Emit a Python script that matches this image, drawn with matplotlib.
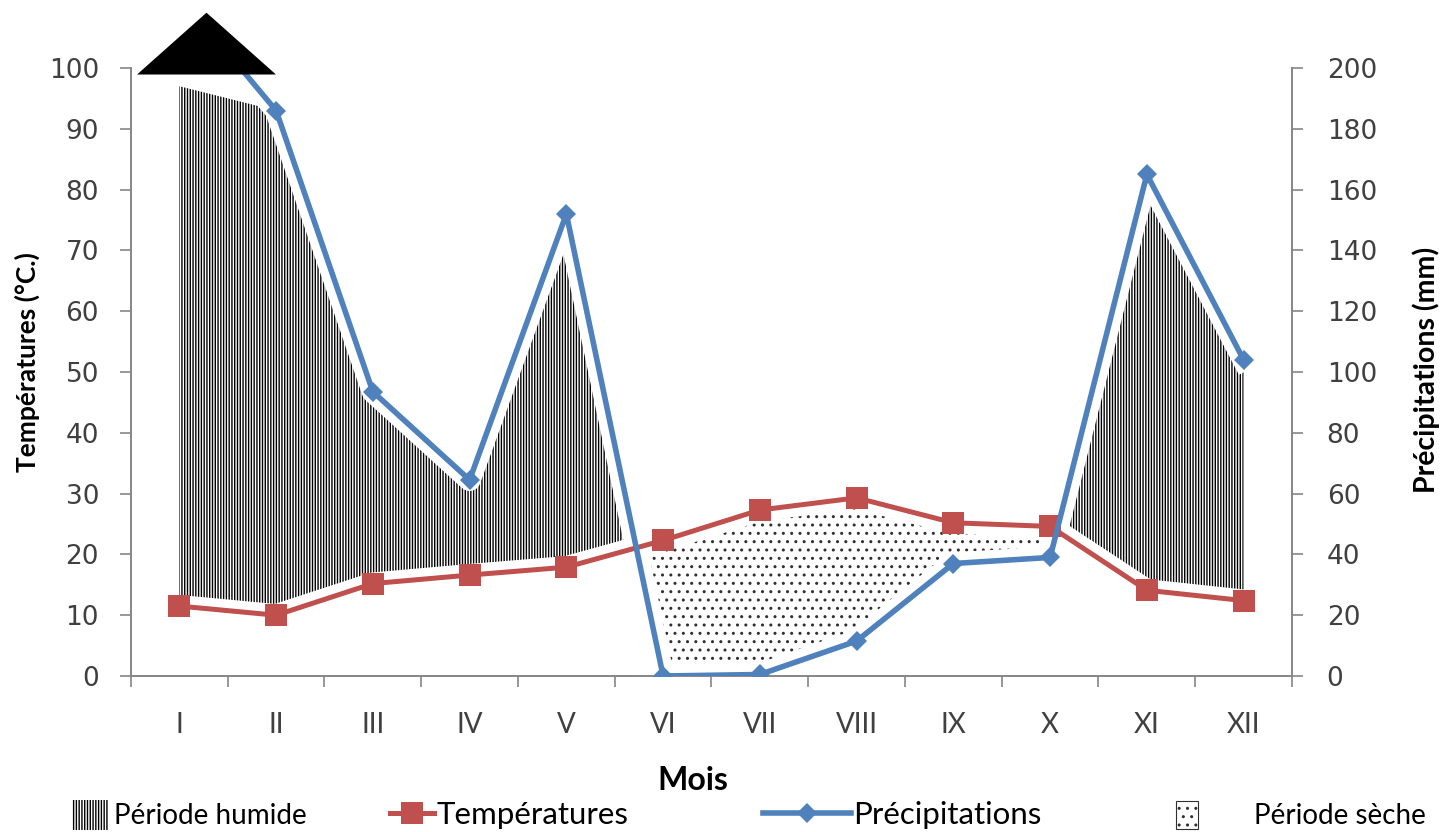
import numpy as np
import matplotlib
matplotlib.use("Agg")
import matplotlib.pyplot as plt
from matplotlib.patches import Patch
from matplotlib.lines import Line2D

# monthly climate data
months = ["I", "II", "III", "IV", "V", "VI", "VII", "VIII", "IX", "X", "XI", "XII"]
temperature = [11.5, 10.0, 15.2, 16.6, 17.9, 22.3, 27.3, 29.3, 25.2, 24.6, 14.1, 12.4]   # °C
precipitation = [224, 186, 93.5, 64.5, 152, 0, 0.5, 11.5, 37, 39, 165, 104]               # mm

RED = "#C0504D"
BLUE = "#4F81BD"
AXIS = "#868686"
TXT = "#404040"
CAL = ["Lato", "DejaVu Sans"]

plt.rcParams["hatch.linewidth"] = 1.0

x = np.arange(1, len(months) + 1)
t = np.array(temperature)
p_half = np.array(precipitation) / 2.0   # Gaussen scale: P = 2T

fig = plt.figure(figsize=(14.41, 8.32), dpi=100)
ax = fig.add_axes([0.0909, 0.1875, 0.8057, 0.7308])
ax.set_xlim(0.5, 12.5)
ax.set_ylim(0, 100)

# wet / dry periods
wet_top = np.minimum(p_half, 97)
ax.fill_between(x, t, wet_top, where=wet_top >= t, interpolate=True,
                facecolor="white", edgecolor="black", hatch="||||||", lw=0, zorder=1)
ax.fill_between(x, t, p_half, where=p_half <= t, interpolate=True,
                facecolor="white", edgecolor="#303030", hatch="..", lw=0, zorder=1)

# white halo under the lines
ax.plot(x, t, color="white", lw=16, zorder=2, solid_joinstyle="round")
ax.plot(x, p_half, color="white", lw=16, zorder=2, solid_joinstyle="round")

ax.plot(x, t, color=RED, lw=3.6, marker="s", ms=16, mew=0, zorder=4)
ax.plot(x, p_half, color=BLUE, lw=4, marker="D", ms=10, mew=0, zorder=5)

# overflow mark above month I (precipitation off the scale)
tri = [(-1, 0), (1, 0), (0, 0.89), (-1, 0)]
ax.plot([x[0] + 0.28], [ax.get_ylim()[1] - 1], marker=tri, ms=100, mew=0,
        color="black", clip_on=False, zorder=6)

# axes styling
for s in ["top", "right"]:
    ax.spines[s].set_visible(False)
for s in ["left", "bottom"]:
    ax.spines[s].set_color(AXIS)
    ax.spines[s].set_linewidth(1.4)
    ax.spines[s].set_zorder(3)

ax.set_yticks(np.arange(0, 101, 10))
ax.tick_params(axis="y", length=8, width=1.2, color=AXIS, pad=15,
               labelsize=19, labelcolor=TXT)
ax.set_xticks(np.arange(0.5, 13, 1))
ax.set_xticklabels([])
ax.set_xticks(x, minor=True)
ax.set_xticklabels(months, minor=True, family=CAL, fontsize=20, color=TXT)
ax.tick_params(axis="x", which="major", length=8, width=1.2, color=AXIS)
ax.tick_params(axis="x", which="minor", length=0, pad=26)

ax.set_ylabel("Températures (°C.)", family=CAL, fontsize=19, fontweight="bold")
ax.yaxis.set_label_coords(-0.0784, 0.516)
ax.set_xlabel("Mois", family=CAL, fontsize=23, fontweight="bold")
ax.xaxis.set_label_coords(0.484, -0.148)

sec = ax.secondary_yaxis("right", functions=(lambda v: v * 2, lambda v: v / 2))
sec.set_yticks(np.arange(0, 201, 20))
sec.spines["right"].set_color(AXIS)
sec.spines["right"].set_linewidth(1.4)
sec.tick_params(axis="y", length=8, width=1.2, color=AXIS, pad=17,
                labelsize=19, labelcolor=TXT)
sec.set_ylabel("Précipitations (mm)", family=CAL, fontsize=20.5, fontweight="bold",
               rotation=90)
sec.yaxis.set_label_coords(1.1034, 0.503, transform=ax.transAxes)

# legend row
leg_kw = dict(frameon=False, borderpad=0, borderaxespad=0)
y_leg = 1 - 815 / 832
fig.legend(handles=[Patch(facecolor="white", edgecolor="black", hatch="||||||", lw=0,
                          label="Période humide")],
           loc="center left", bbox_to_anchor=(72 / 1441, y_leg),
           prop={"family": CAL, "size": 20},
           handlelength=1.3, handleheight=1.3, handletextpad=0.2, **leg_kw)
fig.legend(handles=[Line2D([], [], color=RED, lw=3.6, marker="s", ms=16, mew=0,
                           label="Températures")],
           loc="center left", bbox_to_anchor=(390 / 1441, y_leg),
           prop={"family": CAL, "size": 22.5},
           handlelength=1.4, handletextpad=0.1, **leg_kw)
fig.legend(handles=[Line2D([], [], color=BLUE, lw=4, marker="D", ms=10, mew=0,
                           label="Précipitations")],
           loc="center left", bbox_to_anchor=(763 / 1441, y_leg),
           prop={"family": CAL, "size": 22.5},
           handlelength=2.8, handletextpad=0.1, **leg_kw)
fig.legend(handles=[Patch(facecolor="white", edgecolor="#303030", hatch="..", lw=0.8,
                          label="Période sèche")],
           loc="center left", bbox_to_anchor=(1176 / 1441, y_leg),
           prop={"family": CAL, "size": 20},
           handlelength=0.8, handleheight=1.2, handletextpad=2.0, **leg_kw)

fig.savefig("out.png", dpi=100)
